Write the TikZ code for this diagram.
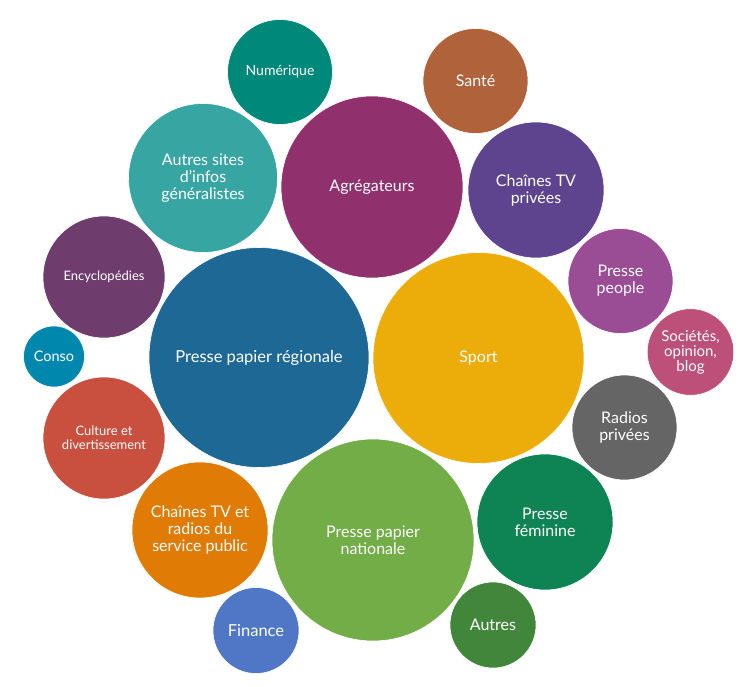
\documentclass[tikz,border=0pt]{standalone}
\usepackage{fontspec}
\setmainfont{Lato}
\definecolor{cNum}{HTML}{00897B}
\definecolor{cAut}{HTML}{37A5A2}
\definecolor{cEnc}{HTML}{6E3D6D}
\definecolor{cAgr}{HTML}{90306C}
\definecolor{cSan}{HTML}{B0623A}
\definecolor{cCtp}{HTML}{5E448F}
\definecolor{cPeo}{HTML}{9A4C94}
\definecolor{cSoc}{HTML}{BD5078}
\definecolor{cReg}{HTML}{1D6894}
\definecolor{cSpo}{HTML}{ECAC0A}
\definecolor{cCon}{HTML}{0087AD}
\definecolor{cCul}{HTML}{C94F3E}
\definecolor{cRad}{HTML}{656565}
\definecolor{cPub}{HTML}{E07B06}
\definecolor{cNat}{HTML}{72AD48}
\definecolor{cFem}{HTML}{0E8454}
\definecolor{cFin}{HTML}{4F77C6}
\definecolor{cOth}{HTML}{42863C}
\tikzset{bubble/.style={circle,inner sep=0pt,draw=white,line width=0.6pt,text=white,align=center}}
\newcommand{\bub}[7]{\node[bubble,fill=#5,minimum size=#4*2pt,font={\fontsize{#6pt}{#6pt}\selectfont}] (#1) at (#2,#3) {#7};}
\begin{document}
\begin{tikzpicture}[x=1pt,y=-1pt]
\useasboundingbox (0,0) rectangle (754,687);
\bub{num}{280}{72}{52.5}{cNum}{14}{Numérique}
\bub{aut}{203}{178}{74.5}{cAut}{16}{Autres sites\\[1pt]d'infos\\[1pt]généralistes}
\bub{enc}{104}{277}{61}{cEnc}{13}{Encyclopédies}
\bub{agr}{372}{187}{91}{cAgr}{16}{Agrégateurs}
\bub{san}{475.5}{81}{52.5}{cSan}{16}{Santé}
\bub{ctp}{536}{190}{68}{cCtp}{16}{Chaînes TV\\[1pt]privées}
\bub{peo}{620.5}{281}{52.5}{cPeo}{16}{Presse\\[1pt]people}
\bub{soc}{690.5}{352}{43.3}{cSoc}{15}{Sociétés,\\opinion,\\blog}
\bub{reg}{259}{357.5}{110}{cReg}{16.5}{Presse papier régionale}
\bub{spo}{478.5}{358}{105.5}{cSpo}{16}{Sport}
\bub{con}{54}{356.5}{30.5}{cCon}{14.5}{Conso}
\bub{cul}{104}{438}{61}{cCul}{13}{Culture et\\[0.5pt]divertissement}
\bub{rad}{624.5}{427.5}{52.5}{cRad}{16}{Radios\\[1pt]privées}
\bub{pub}{200}{530}{68}{cPub}{16}{Chaînes TV et\\[1pt]radios du\\[1pt]service public}
\bub{nat}{373}{540}{101}{cNat}{16}{Presse papier\\[1pt]nationale}
\bub{fem}{545}{522}{68}{cFem}{16}{Presse\\[1pt]féminine}
\bub{fin}{256}{630.5}{43}{cFin}{16.5}{Finance}
\bub{oth}{493}{625}{43}{cOth}{16}{Autres}
\end{tikzpicture}
\end{document}
